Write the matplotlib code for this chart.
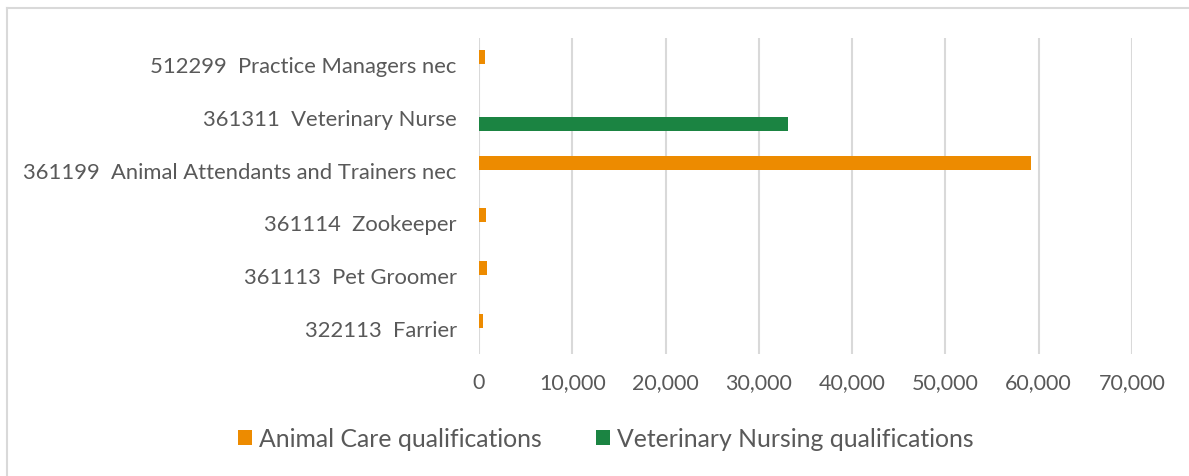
import matplotlib.pyplot as plt
import numpy as np

plt.rcParams['font.family'] = ['Lato', 'DejaVu Sans']

categories = ['322113  Farrier', '361113  Pet Groomer', '361114  Zookeeper',
              '361199  Animal Attendants and Trainers nec', '361311  Veterinary Nurse',
              '512299  Practice Managers nec']
animal_care = [450, 850, 700, 59200, 0, 650]
vet_nursing = [0, 0, 0, 0, 33100, 0]
xticks = [0, 10000, 20000, 30000, 40000, 50000, 60000, 70000]

orange = '#ED8B00'
green = '#1B8442'
text_col = '#595959'
grid_col = '#D9D9D9'

fig = plt.figure(figsize=(11.89, 4.77), dpi=100)
ax = fig.add_axes([479 / 1189, 1 - 355 / 477, (1132 - 479) / 1189, (355 - 39) / 477])

y = np.arange(len(categories))
h = 0.265
ax.barh(y + h / 2, animal_care, height=h, color=orange, label='Animal Care qualifications', zorder=3)
ax.barh(y - h / 2, vet_nursing, height=h, color=green, label='Veterinary Nursing qualifications', zorder=3)

ax.set_xlim(0, 70000)
ax.set_ylim(-0.5, len(categories) - 0.5)
ax.set_xticks(xticks)
ax.set_xticklabels([f'{v:,}' for v in xticks])
ax.set_yticks(y)
ax.set_yticklabels(categories)
ax.tick_params(axis='both', length=0, colors=text_col, labelsize=15.5)
ax.tick_params(axis='y', pad=16, labelsize=15.8)
ax.tick_params(axis='x', pad=13)
ax.grid(axis='x', color=grid_col, linewidth=1.5, zorder=0)
for s in ax.spines.values():
    s.set_visible(False)

leg = fig.legend(loc='center', bbox_to_anchor=(606 / 1189, 1 - 440 / 477), ncol=2,
                 frameon=False, fontsize=17.8, handlelength=0.55, handleheight=0.55,
                 handletextpad=0.3, columnspacing=2.2)
for t in leg.get_texts():
    t.set_color(text_col)

# chart border (top and left visible in the screenshot)
fig.add_artist(plt.Line2D([6.5 / 1189, 1], [1 - 9 / 477, 1 - 9 / 477], color=grid_col, linewidth=1.5))
fig.add_artist(plt.Line2D([6.5 / 1189, 6.5 / 1189], [0, 1 - 9 / 477], color=grid_col, linewidth=1.5))

fig.savefig('out.png', dpi=100)
